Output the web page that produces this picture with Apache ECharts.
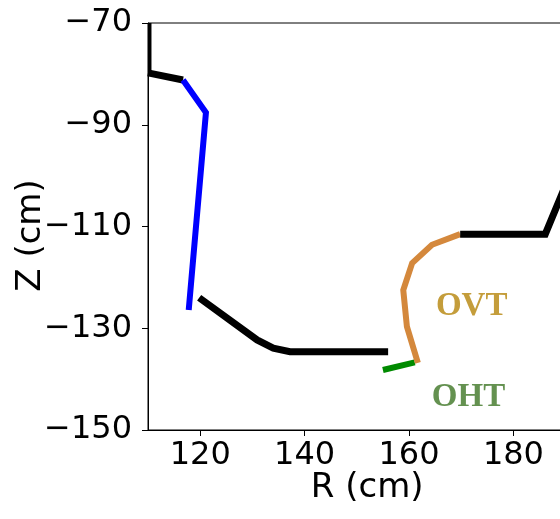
<!DOCTYPE html>
<html>
<head>
<meta charset="utf-8">
<script src="https://cdn.jsdelivr.net/npm/echarts@6/dist/echarts.min.js"></script>
<style>html,body{margin:0;padding:0;background:#fff}#c{width:560px;height:519px}</style>
</head>
<body>
<div id="c"></div>
<script>
const xTicks = [120, 140, 160, 180, 200];
const yTicks = [-150, -130, -110, -90, -70];
const wallEdge = [[110.33, -70], [110.33, -79.8]];
const wallUpper = [[110, -79.8], [116.7, -81.2]];
const blueLine = [[116.7, -81.2], [121.1, -87.6], [117.8, -126.4]];
const wallLower = [[119.8, -124.0], [130.9, -132.3], [134.0, -133.9], [137.2, -134.6], [156.0, -134.6]];
const ohtLine = [[155.0, -138.2], [161.1, -136.7]];
const ovtLine = [[161.7, -136.8], [159.6, -129.7], [158.9, -122.5], [160.6, -117.2], [164.4, -113.6], [169.8, -111.5]];
const wallRight = [[169.8, -111.5], [186.1, -111.5], [192.0, -96.9]];
const textLabels = [
  { name: 'OVT', pos: [172.0, -125.8], color: '#b5850a' },
  { name: 'OHT', pos: [171.4, -143.6], color: '#3d7524' }
];
const xName = 'R (cm)';
const yName = 'Z (cm)';

const minus = v => String(v).replace('-', '\u2212');
const line = (data, color, width) => ({
  type: 'line', data, symbol: 'none', silent: true,
  lineStyle: { color, width, cap: 'butt', join: 'miter' }, z: 3
});

const chart = echarts.init(document.getElementById('c'), null, { renderer: 'canvas' });
chart.setOption({
  animation: false,
  backgroundColor: '#fff',
  grid: { left: 148, top: 23, height: 407, width: 438.5, containLabel: false, outerBoundsMode: 'none',
    show: true, borderColor: '#000', borderWidth: 1, backgroundColor: 'transparent' },
  xAxis: {
    type: 'value', min: 110, max: 194,
    name: xName, nameLocation: 'middle', nameGap: 41, nameMoveOverlap: false,
    nameTextStyle: { fontSize: 34, color: '#000', fontFamily: 'DejaVu Sans' },
    axisLine: { show: true, lineStyle: { color: '#000', width: 1 } },
    axisTick: { show: true, length: 6, inside: false, customValues: xTicks, lineStyle: { color: '#000', width: 1 } },
    axisLabel: { customValues: xTicks, fontSize: 32, color: '#000', fontFamily: 'DejaVu Sans', margin: 10, formatter: minus },
    splitLine: { show: false }
  },
  yAxis: {
    type: 'value', min: -150, max: -70,
    name: yName, nameLocation: 'middle', nameGap: 100, nameRotate: 90, nameMoveOverlap: false,
    nameTextStyle: { fontSize: 34, color: '#000', fontFamily: 'DejaVu Sans', padding: [0, 18, 0, 0] },
    axisLine: { show: true, lineStyle: { color: '#000', width: 1 } },
    axisTick: { show: true, length: 6, inside: false, customValues: yTicks, lineStyle: { color: '#000', width: 1 } },
    axisLabel: { customValues: yTicks, fontSize: 32, color: '#000', fontFamily: 'DejaVu Sans', margin: 16, formatter: minus },
    splitLine: { show: false }
  },
  series: [
    line(wallEdge, '#000000', 3.5),
    line(wallUpper, '#000000', 7),
    line(blueLine, '#0000ff', 6),
    line(wallLower, '#000000', 7),
    line(ohtLine, '#008a00', 6),
    line(ovtLine, '#d4883c', 6),
    line(wallRight, '#000000', 7),
    {
      type: 'scatter', symbolSize: 0, silent: true,
      data: textLabels.map(t => ({
        value: t.pos,
        label: { show: true, position: 'inside', formatter: t.name, color: t.color,
          fontFamily: 'Liberation Serif', fontWeight: 'bold', fontSize: 33 }
      }))
    }
  ]
});
</script>
</body>
</html>
